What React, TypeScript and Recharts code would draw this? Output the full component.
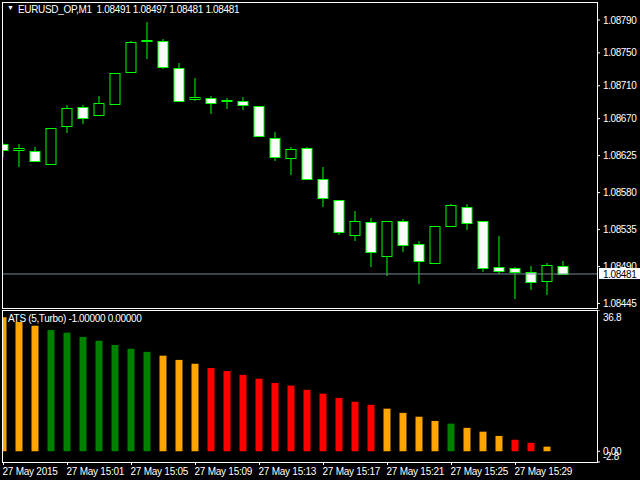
import React from 'react';
import { ComposedChart, Bar, XAxis, YAxis, ReferenceLine, Cell } from 'recharts';

// M1 candles, 27 May 2015
const opens = [
  1.08639, 1.08631, 1.08631, 1.08615, 1.08661, 1.08684, 1.08675, 1.08687, 1.08726, 1.08766,
  1.08765, 1.08732, 1.08693, 1.08695, 1.08693, 1.08692, 1.08685, 1.08647, 1.08622, 1.08634,
  1.08596, 1.08571, 1.08529, 1.08544, 1.08504, 1.08545, 1.08518, 1.08494, 1.08540, 1.08563,
  1.08545, 1.08490, 1.08488, 1.08484, 1.08473, 1.08491,
];
const highs = [
  1.08640, 1.08639, 1.08635, 1.08659, 1.08687, 1.08687, 1.08698, 1.08725, 1.08764, 1.08788,
  1.08767, 1.08738, 1.08719, 1.08698, 1.08695, 1.08696, 1.08685, 1.08654, 1.08635, 1.08635,
  1.08611, 1.08571, 1.08558, 1.08549, 1.08546, 1.08548, 1.08521, 1.08539, 1.08566, 1.08566,
  1.08545, 1.08527, 1.08489, 1.08491, 1.08494, 1.08497,
];
const lows = [
  1.08623, 1.08611, 1.08619, 1.08613, 1.08653, 1.08664, 1.08675, 1.08687, 1.08725, 1.08743,
  1.08730, 1.08691, 1.08692, 1.08676, 1.08682, 1.08680, 1.08648, 1.08619, 1.08602, 1.08596,
  1.08562, 1.08529, 1.08521, 1.08490, 1.08478, 1.08508, 1.08469, 1.08494, 1.08540, 1.08535,
  1.08484, 1.08481, 1.08451, 1.08462, 1.08455, 1.08481,
];
const closes = [
  1.08632, 1.08634, 1.08619, 1.08659, 1.08683, 1.08671, 1.08689, 1.08725, 1.08763, 1.08766,
  1.08733, 1.08692, 1.08696, 1.08689, 1.08693, 1.08687, 1.08648, 1.08624, 1.08633, 1.08596,
  1.08573, 1.08532, 1.08546, 1.08507, 1.08546, 1.08516, 1.08497, 1.08539, 1.08565, 1.08543,
  1.08488, 1.08485, 1.08483, 1.08472, 1.08492, 1.08481,
];

// ATS (5,Turbo) histogram, one per candle (last one empty)
const atsValues = [
  34.9, 33.7, 32.7, 31.6, 30.9, 29.8, 28.8, 27.7, 26.7, 25.9,
  24.9, 23.8, 22.8, 21.7, 20.9, 19.9, 18.9, 17.8, 17.1, 16.0,
  15.0, 13.9, 12.9, 12.1, 11.1, 10.0, 9.0, 7.9, 7.2, 6.1,
  5.1, 4.0, 3.0, 2.2, 1.2, null,
];
const atsTrend = [
  'flat', 'flat', 'flat', 'up', 'up', 'up', 'up', 'up', 'up', 'up',
  'flat', 'flat', 'flat', 'down', 'down', 'down', 'down', 'down', 'down', 'down',
  'down', 'down', 'down', 'down', 'flat', 'flat', 'flat', 'flat', 'up', 'flat',
  'flat', 'flat', 'down', 'down', 'flat', 'flat',
];

const timeLabels = [
  '27 May 2015', '27 May 15:01', '27 May 15:05', '27 May 15:09', '27 May 15:13',
  '27 May 15:17', '27 May 15:21', '27 May 15:25', '27 May 15:29',
];
const timeTicks = [0, 4, 8, 12, 16, 20, 24, 28, 32];
const priceTicks = [1.08445, 1.0849, 1.08535, 1.0858, 1.08625, 1.0867, 1.0871, 1.0875, 1.0879];
const atsTicks = [-2.8, 0, 36.8];

const header = 'EURUSD_OP,M1  1.08491 1.08497 1.08481 1.08481';
const atsHeader = 'ATS (5,Turbo) -1.00000 0.00000';

const TREND_COLORS: Record<string, string> = { up: '#008000', down: '#FF0000', flat: '#FFA500' };
const FONT = "'Liberation Sans', Arial, sans-serif";
const X_DOMAIN = [-0.09375, 37.09375];
const lastClose = closes[closes.length - 1];

const rows = opens.map((open, k) => ({
  k,
  open,
  high: highs[k],
  low: lows[k],
  close: closes[k],
  ats: atsValues[k],
}));

const Candle = (props: any) => {
  const { x, y, width, height, payload } = props;
  if (!payload) return null;
  const top = height < 0 ? y + height : y;
  const h = Math.abs(height);
  const span = payload.high - payload.low;
  const toY = (v: number) => top + ((payload.high - v) / span) * h;
  const cx = x + width / 2;
  const yo = toY(payload.open);
  const yc = toY(payload.close);
  const bodyTop = Math.round(Math.min(yo, yc)) + 0.5;
  const bodyH = Math.max(1, Math.round(Math.abs(yo - yc)));
  const bear = payload.close < payload.open;
  return (
    <g>
      <line x1={cx} x2={cx} y1={Math.round(top)} y2={Math.round(top + h)} stroke="#00FF00" strokeWidth={1} />
      <rect x={cx - 5} y={bodyTop} width={10} height={bodyH} fill={bear ? '#FFFFFF' : '#000000'} stroke="#00FF00" strokeWidth={1} />
    </g>
  );
};

const PriceTag = (props: any) => {
  const vb = props.viewBox || {};
  const right = vb.x + vb.width;
  return (
    <g>
      <rect x={right + 2} y={vb.y - 6} width={43} height={11} fill="#FFFFFF" />
      <text x={right + 6} y={vb.y + 4} fill="#000000" fontSize={10} fontFamily={FONT} letterSpacing={-0.4}>
        {lastClose.toFixed(5)}
      </text>
    </g>
  );
};

const TimeTick = (props: any) => {
  const { x, y, payload } = props;
  const i = timeTicks.indexOf(payload.value);
  return (
    <text x={x - 1} y={y + 8} fill="#FFFFFF" fontSize={10} fontFamily={FONT} textAnchor="start" letterSpacing={-0.25}>
      {timeLabels[i]}
    </text>
  );
};

const AtsTick = (props: any) => {
  const { x, y, payload } = props;
  const v = payload.value;
  const shift = v === 36.8 ? 7 : v === -2.8 ? -6 : 0;
  const label = v === 0 ? '0.00' : String(v);
  return (
    <text x={x} y={y + shift + 4} fill="#FFFFFF" fontSize={10} fontFamily={FONT} textAnchor="start" letterSpacing={-0.3}>
      {label}
    </text>
  );
};

const paneBorder = (top: number, height: number): React.CSSProperties => ({
  position: 'absolute',
  left: 2,
  top,
  width: 596,
  height,
  boxSizing: 'border-box',
  border: '1px solid #FFFFFF',
  pointerEvents: 'none',
});

export default function App() {
  return (
    <div style={{ position: 'fixed', left: 0, top: 0, width: 640, height: 480, background: '#000000', overflow: 'hidden', fontFamily: FONT }}>
      <div style={{ position: 'absolute', left: 0, top: 0 }}>
        <ComposedChart width={640} height={310} data={rows} margin={{ top: 2, right: 0, bottom: 2, left: 2 }}>
          <XAxis type="number" dataKey="k" domain={X_DOMAIN} hide allowDataOverflow />
          <YAxis
            orientation="right"
            width={43}
            domain={[1.084396, 1.088119]}
            allowDataOverflow
            ticks={priceTicks}
            interval={0}
            tickFormatter={(v: number) => v.toFixed(5)}
            tick={{ fill: '#FFFFFF', fontSize: 10, fontFamily: FONT, letterSpacing: -0.4 }}
            tickSize={3}
            tickMargin={3}
            axisLine={false}
            tickLine={{ stroke: '#FFFFFF' }}
          />
          <ReferenceLine y={lastClose} stroke="#778899" label={<PriceTag />} />
          <Bar dataKey={(d: any) => [d.low, d.high]} barSize={11} shape={<Candle />} isAnimationActive={false} />
        </ComposedChart>
      </div>
      <div style={{ position: 'absolute', left: 0, top: 310 }}>
        <ComposedChart width={640} height={170} data={rows} margin={{ top: 0, right: 0, bottom: 0, left: 2 }}>
          <XAxis
            type="number"
            dataKey="k"
            domain={X_DOMAIN}
            allowDataOverflow
            ticks={timeTicks}
            interval={0}
            height={18}
            tickSize={3}
            tickMargin={2}
            axisLine={false}
            tickLine={{ stroke: '#FFFFFF' }}
            tick={<TimeTick />}
          />
          <YAxis
            orientation="right"
            width={43}
            domain={[-2.8, 36.8]}
            allowDataOverflow
            ticks={atsTicks}
            interval={0}
            tickSize={3}
            tickMargin={3}
            axisLine={false}
            tickLine={{ stroke: '#FFFFFF' }}
            tick={<AtsTick />}
          />
          <Bar dataKey="ats" barSize={7} isAnimationActive={false}>
            {rows.map((r) => (
              <Cell key={r.k} fill={TREND_COLORS[atsTrend[r.k]]} />
            ))}
          </Bar>
        </ComposedChart>
      </div>
      <div style={paneBorder(2, 307)} />
      <div style={paneBorder(310, 153)} />
      <div style={{ position: 'absolute', left: 7, top: 4, color: '#FFFFFF', fontSize: 7 }}>▼</div>
      <div style={{ position: 'absolute', left: 18, top: 4, color: '#FFFFFF', fontSize: 10, whiteSpace: 'pre', letterSpacing: -0.33 }}>{header}</div>
      <div style={{ position: 'absolute', left: 8, top: 313, color: '#FFFFFF', fontSize: 10, whiteSpace: 'pre', letterSpacing: -0.33 }}>{atsHeader}</div>
    </div>
  );
}
